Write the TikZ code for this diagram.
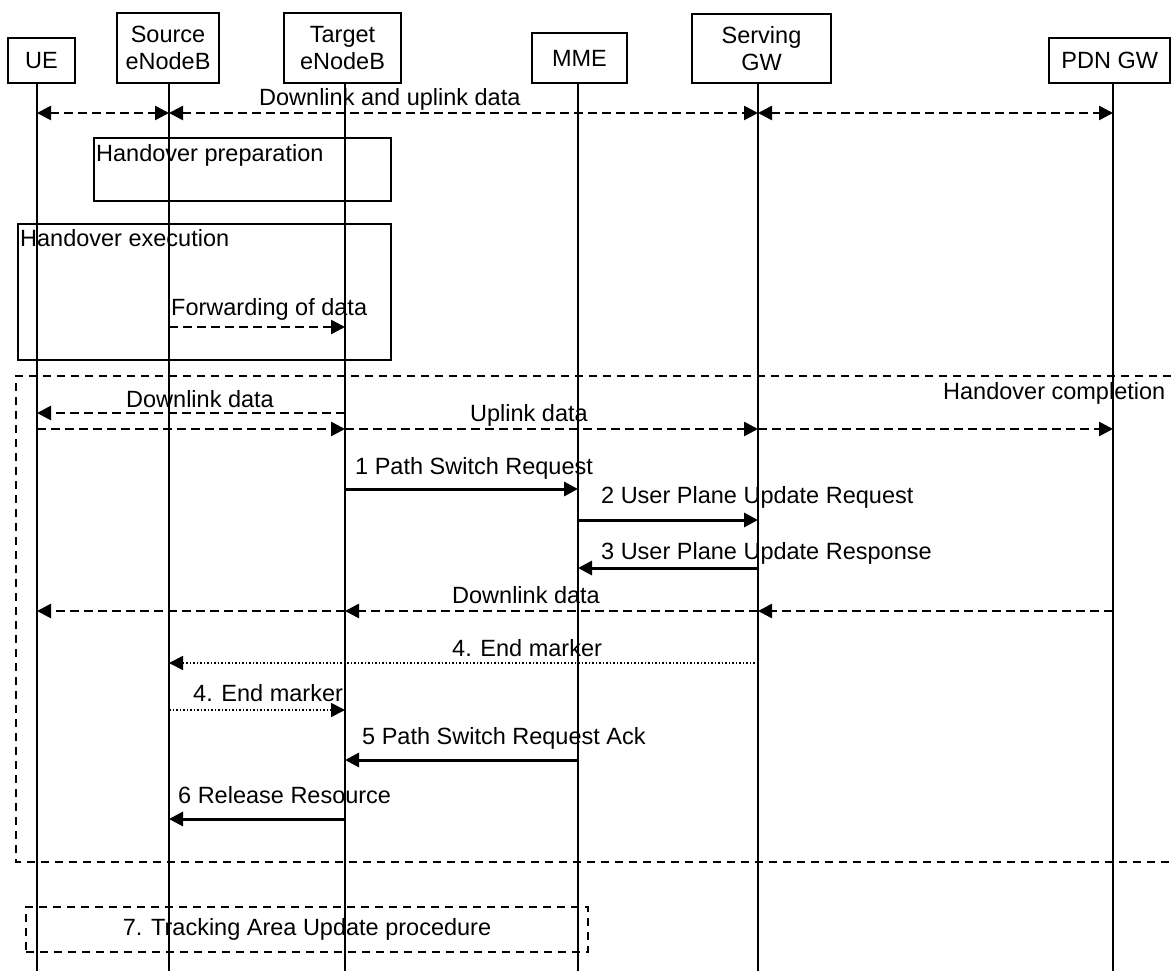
\documentclass[tikz,border=0pt]{standalone}
\usepackage{fontspec}
\setmainfont{Liberation Sans}
\usetikzlibrary{arrows.meta}
\begin{document}
\begin{tikzpicture}[yscale=-1
,font=\fontsize{23.5}{26.5}\selectfont
,>={Triangle[length=14pt,width=14pt]}
,pstyle0/.style={draw=black,line width=2pt,inner sep=0,align=center}
,pstyle1/.style={color=black,line width=1.8pt}
,pstyle2/.style={color=black,line width=1.7pt,dash pattern=on 8pt off 6pt}
,pstyle3/.style={color=black,line width=3pt,->}
,pstyle4/.style={color=black,line width=2.6pt,dash pattern=on 9pt off 5pt}
,pstyle5/.style={color=black,line width=1.8pt,dash pattern=on 1.5pt off 2pt,->}
,ptext/.style={anchor=base west,inner sep=0,color=black}
]
\useasboundingbox (0pt,0pt) rectangle (1171pt,971pt);
% participants
\node[pstyle0,minimum width=67pt,minimum height=45pt] (ue) at (41.5pt,60.5pt) {UE};
\node[pstyle0,minimum width=102pt,minimum height=70pt] (src) at (168pt,48pt) {Source\\eNodeB};
\node[pstyle0,minimum width=117pt,minimum height=70pt] (tgt) at (342.5pt,48pt) {Target\\eNodeB};
\node[pstyle0,minimum width=95pt,minimum height=50pt] (mme) at (579.5pt,58pt) {MME};
\node[pstyle0,minimum width=139pt,minimum height=69pt] (sgw) at (761.5pt,48.5pt) {Serving\\GW};
\node[pstyle0,minimum width=121pt,minimum height=45pt] (pgw) at (1109.75pt,60.5pt) {PDN GW};
% lifelines
\coordinate (l-ue) at (37pt,83pt);
\coordinate (l-src) at (169pt,83pt);
\coordinate (l-tgt) at (345pt,83pt);
\coordinate (l-mme) at (578pt,83pt);
\coordinate (l-sgw) at (758pt,83pt);
\coordinate (l-pgw) at (1113pt,83pt);
\coordinate (e-ue) at (37pt,971pt);
\coordinate (e-src) at (169pt,971pt);
\coordinate (e-tgt) at (345pt,971pt);
\coordinate (e-mme) at (578pt,971pt);
\coordinate (e-sgw) at (758pt,971pt);
\coordinate (e-pgw) at (1113pt,971pt);
\draw[pstyle1] (l-ue) -- (e-ue);
\draw[pstyle1] (l-src) -- (e-src);
\draw[pstyle1] (l-tgt) -- (e-tgt);
\draw[pstyle1] (l-mme) -- (e-mme);
\draw[pstyle1] (l-sgw) -- (e-sgw);
\draw[pstyle1] (l-pgw) -- (e-pgw);
% downlink and uplink data
\draw[pstyle4,<->] (l-ue |- 0,113pt) -- (l-src |- 0,113pt);
\draw[pstyle4,<->] (l-src |- 0,113pt) -- (l-sgw |- 0,113pt);
\draw[pstyle4,<->] (l-sgw |- 0,113pt) -- (l-pgw |- 0,113pt);
\node[ptext] (t-dlul) at (259pt,106pt) {Downlink and uplink data};
% preparation and execution
\draw[pstyle0] (94pt,138pt) rectangle (391pt,201pt);
\node[ptext] (t-prep) at (96pt,162pt) {Handover preparation};
\draw[pstyle0] (18pt,224pt) rectangle (391pt,360pt);
\node[ptext] (t-exec) at (20pt,246.5pt) {Handover execution};
\draw[pstyle4,->] (l-src |- 0,327pt) -- (l-tgt |- 0,327pt);
\node[ptext] (t-fwd) at (171pt,315pt) {Forwarding of data};
% completion
\draw[pstyle2] (1171pt,376pt) -- (16pt,376pt) -- (16pt,862pt) -- (1171pt,862pt);
\node[ptext] (t-comp) at (943pt,399pt) {Handover completion};
\draw[pstyle4,->] (l-tgt |- 0,413pt) -- (l-ue |- 0,413pt);
\node[ptext] (t-dl1) at (126pt,407pt) {Downlink data};
\draw[pstyle4,->] (l-ue |- 0,429pt) -- (l-tgt |- 0,429pt);
\draw[pstyle4,->] (l-tgt |- 0,429pt) -- (l-sgw |- 0,429pt);
\draw[pstyle4,->] (l-sgw |- 0,429pt) -- (l-pgw |- 0,429pt);
\node[ptext] (t-ul) at (470pt,421.5pt) {Uplink data};
\draw[pstyle3] (l-tgt |- 0,489pt) -- (l-mme |- 0,489pt);
\node[ptext] (t-m1) at (355pt,474pt) {1 Path Switch Request};
\draw[pstyle3] (l-mme |- 0,520pt) -- (l-sgw |- 0,520pt);
\node[ptext] (t-m2) at (601pt,503pt) {2 User Plane Update Request};
\draw[pstyle3] (l-sgw |- 0,568pt) -- (l-mme |- 0,568pt);
\node[ptext] (t-m3) at (601pt,559pt) {3 User Plane Update Response};
\draw[pstyle4,->] (l-pgw |- 0,611pt) -- (l-sgw |- 0,611pt);
\draw[pstyle4,->] (l-sgw |- 0,611pt) -- (l-tgt |- 0,611pt);
\draw[pstyle4,->] (l-tgt |- 0,611pt) -- (l-ue |- 0,611pt);
\node[ptext] (t-dl2) at (452pt,603pt) {Downlink data};
\draw[pstyle5] (l-sgw |- 0,663pt) -- (l-src |- 0,663pt);
\node[ptext] (t-em1) at (452pt,656.5pt) {4. End marker};
\draw[pstyle5] (l-src |- 0,710pt) -- (l-tgt |- 0,710pt);
\node[ptext] (t-em2) at (193pt,701.5pt) {4. End marker};
\draw[pstyle3] (l-mme |- 0,760pt) -- (l-tgt |- 0,760pt);
\node[ptext] (t-m5) at (362pt,744pt) {5 Path Switch Request Ack};
\draw[pstyle3] (l-tgt |- 0,819pt) -- (l-src |- 0,819pt);
\node[ptext] (t-m6) at (178pt,803pt) {6 Release Resource};
% tracking area update
\node[pstyle0,pstyle2,minimum width=562pt,minimum height=45pt] (tau) at (307pt,929.5pt) {7. Tracking Area Update procedure};
\end{tikzpicture}
\end{document}
